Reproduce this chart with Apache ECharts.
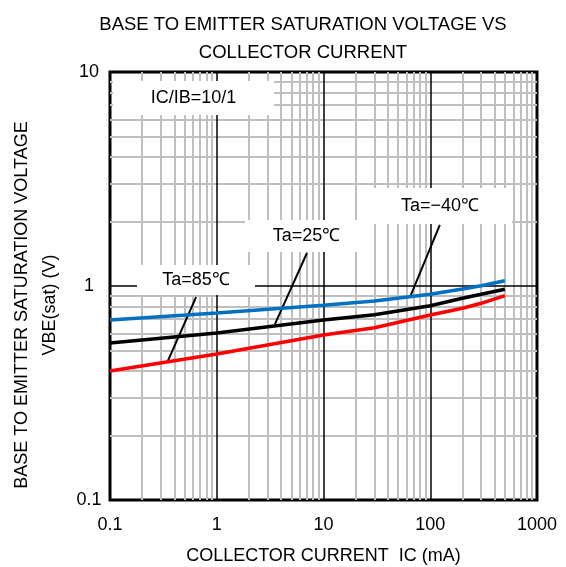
<!DOCTYPE html>
<html>
<head>
<meta charset="utf-8">
<script src="https://cdn.jsdelivr.net/npm/echarts@6/dist/echarts.min.js"></script>
<style>
  html, body { margin: 0; padding: 0; background: #fff; }
  #chart { width: 566px; height: 567px; }
</style>
</head>
<body>
<div id="chart"></div>
<script>
const FONT = "Liberation Sans";

// collector current IC (mA)
const icValues = [0.1, 1, 10, 30, 100, 200, 300, 500];
// VBE(sat) (V)
const vbeM40 = [0.694, 0.748, 0.812, 0.851, 0.915, 0.968, 1.003, 1.059];
const vbe25 = [0.542, 0.603, 0.694, 0.734, 0.809, 0.876, 0.915, 0.965];
const vbe85 = [0.401, 0.481, 0.59, 0.638, 0.732, 0.787, 0.83, 0.901];

const xMajor = [1, 10, 100];
const yMajor = [1];
const xMinor = [0.2, 0.3, 0.4, 0.5, 0.6, 0.7, 0.8, 0.9, 2, 3, 4, 5, 6, 7, 8, 9,
  20, 30, 40, 50, 60, 70, 80, 90, 200, 300, 400, 500, 600, 700, 800, 900];
const yMinor = [0.2, 0.3, 0.4, 0.5, 0.6, 0.7, 0.8, 0.9, 2, 3, 4, 5, 6, 7, 8, 9];

// leader lines: [label end, curve end]
const leader85 = [[0.64, 0.888], [0.342, 0.437]];
const leader25 = [[7.0, 1.426], [3.51, 0.664]];
const leaderM40 = [[123, 1.93], [64.6, 0.888]];

function pairs(xs, ys) {
  return xs.map((x, i) => [x, ys[i]]);
}

function leader(p) {
  return {
    silent: true,
    symbol: "none",
    label: { show: false },
    lineStyle: { color: "#000", width: 2, type: "solid" },
    data: [[{ coord: p[0] }, { coord: p[1] }]],
  };
}

function box(x, y, w, h, text) {
  return [
    { type: "rect", z: 50, shape: { x: x, y: y, width: w, height: h }, style: { fill: "#fff" } },
    {
      type: "text", z: 51, x: x + w / 2, y: y + h / 2,
      style: { text: text, fill: "#000", font: "18px " + FONT, align: "center", verticalAlign: "middle" },
    },
  ];
}

const options = {
  animation: false,
  backgroundColor: "#fff",
  grid: {
    left: 110, right: 29, top: 72, bottom: 67,
    outerBoundsMode: "none",
    show: true, borderColor: "#000", borderWidth: 3, backgroundColor: "transparent",
  },
  title: {
    text: "BASE TO EMITTER SATURATION VOLTAGE VS\nCOLLECTOR CURRENT",
    left: 298, top: 6, textAlign: "center",
    textStyle: { fontFamily: FONT, fontSize: 18.5, fontWeight: "normal", color: "#000", lineHeight: 28 },
  },
  xAxis: {
    type: "log", logBase: 10, min: 0.1, max: 1000,
    axisLine: { show: false }, axisTick: { show: false },
    splitLine: { show: false },
    axisLabel: { fontFamily: FONT, fontSize: 18, color: "#000", margin: 16, formatter: (v) => String(v) },
    name: "COLLECTOR CURRENT  IC (mA)",
    nameLocation: "middle", nameGap: 47,
    nameTextStyle: { fontFamily: FONT, fontSize: 18, color: "#000" },
  },
  yAxis: {
    type: "log", logBase: 10, min: 0.1, max: 10,
    axisLine: { show: false }, axisTick: { show: false },
    splitLine: { show: false },
    axisLabel: { fontFamily: FONT, fontSize: 18, color: "#000", margin: 21, align: "center" },
  },
  graphic: [
    {
      type: "text", x: 22, y: 305, rotation: Math.PI / 2,
      style: { text: "BASE TO EMITTER SATURATION VOLTAGE", fill: "#000", font: "18px " + FONT, align: "center", verticalAlign: "middle" },
    },
    {
      type: "text", x: 50, y: 305, rotation: Math.PI / 2,
      style: { text: "VBE(sat) (V)", fill: "#000", font: "18px " + FONT, align: "center", verticalAlign: "middle" },
    },
    ...box(113, 81, 161, 34, "IC/IB=10/1"),
    ...box(137, 265, 118, 30, "Ta=85\u2103"),
    ...box(245, 220, 123, 32, "Ta=25\u2103"),
    ...box(368, 188, 144, 36, "Ta=\u221240\u2103"),
  ],
  series: [
    {
      type: "line", data: [], silent: true, z: 1,
      markLine: {
        silent: true, symbol: "none", label: { show: false }, animation: false,
        lineStyle: { color: "#bfbfbf", width: 2, type: "solid" },
        data: xMinor.map((v) => ({ xAxis: v })).concat(yMinor.map((v) => ({ yAxis: v }))),
      },
    },
    {
      type: "line", data: [], silent: true, z: 1.5,
      markLine: {
        silent: true, symbol: "none", label: { show: false }, animation: false,
        lineStyle: { color: "#000", width: 1.5, type: "solid" },
        data: xMajor.map((v) => ({ xAxis: v })).concat(yMajor.map((v) => ({ yAxis: v }))),
      },
    },
    {
      name: "Ta=-40", type: "line", z: 60, showSymbol: false,
      lineStyle: { color: "#0070c0", width: 3.5 }, itemStyle: { color: "#0070c0" },
      data: pairs(icValues, vbeM40),
      markLine: leader(leaderM40),
    },
    {
      name: "Ta=25", type: "line", z: 60, showSymbol: false,
      lineStyle: { color: "#000", width: 3.5 }, itemStyle: { color: "#000" },
      data: pairs(icValues, vbe25),
      markLine: leader(leader25),
    },
    {
      name: "Ta=85", type: "line", z: 60, showSymbol: false,
      lineStyle: { color: "#ff0000", width: 3.5 }, itemStyle: { color: "#ff0000" },
      data: pairs(icValues, vbe85),
      markLine: leader(leader85),
    },
  ],
};

document.addEventListener("DOMContentLoaded", function () {
  const chart = echarts.init(document.getElementById("chart"));
  chart.setOption(options);
});
</script>
</body>
</html>
